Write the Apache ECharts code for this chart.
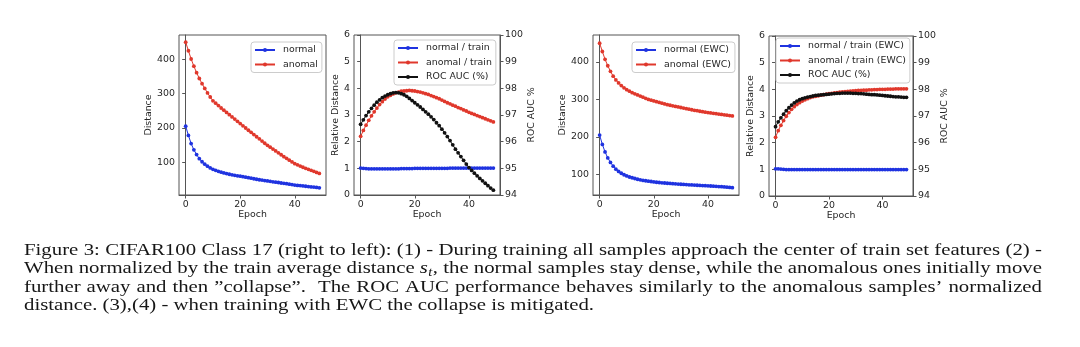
<!DOCTYPE html>
<html>
<head>
<meta charset="utf-8">
<script src="https://cdn.jsdelivr.net/npm/echarts@6/dist/echarts.min.js"></script>
<style>
html,body{margin:0;padding:0;background:#fff;}
#c{width:1080px;height:347px;}
</style>
</head>
<body>
<div id="c"></div>
<script>
const epochs = [0,1,2,3,4,5,6,7,8,9,10,11,12,13,14,15,16,17,18,19,20,21,22,23,24,25,26,27,28,29,30,31,32,33,34,35,36,37,38,39,40,41,42,43,44,45,46,47,48,49];
const xTicks = [0,20,40];
const distTicks = [100,200,300,400];

const p1Normal = [205,178,154,136,122,110,101,94,88,83, 79,76,73,70.5,68.5,66.5,64.5,63,61.5,60, 59,57.5,56,54.5,53,51.5,50,48.5,47.5,46, 45,44,42.5,41.5,40.5,39,38,37,35.5,34.5, 33,32,31.5,30.5,29.5,28.5,27.5,27,26,25];
const p1Anomal = [450,425,401,380,361,344,329,315,302,290, 279,272,265,258,251.5,245,238.5,232,225.5,219, 212.5,206,199.5,193,187,180.5,174,168,161.5,155, 149,143.5,138,132.5,127,121.5,116,111,105.5,100.5, 95.5,92,88.5,85,82,79,76,73,70,67];

const p2Normal = [1.01,1.0,0.99,0.98,0.98,0.98,0.98,0.98,0.98,0.98, 0.98,0.98,0.98,0.98,0.98,0.99,0.99,0.99,0.99,0.99, 1.0,1.0,1.0,1.0,1.0,1.0,1.0,1.0,1.0,1.0, 1.0,1.0,1.0,1.01,1.01,1.01,1.01,1.01,1.01,1.01, 1.01,1.01,1.01,1.01,1.01,1.01,1.01,1.01,1.01,1.01];
const p2Anomal = [2.2,2.42,2.62,2.8,2.97,3.12,3.26,3.39,3.5,3.6, 3.68,3.74,3.79,3.83,3.86,3.89,3.9,3.91,3.92,3.91, 3.9,3.88,3.86,3.83,3.8,3.77,3.73,3.69,3.65,3.61, 3.56,3.51,3.46,3.42,3.37,3.33,3.28,3.24,3.19,3.15, 3.1,3.06,3.02,2.98,2.94,2.9,2.86,2.82,2.78,2.74];
const p2Auc = [96.65,96.82,96.98,97.12,97.25,97.37,97.48,97.57,97.65,97.71, 97.76,97.8,97.83,97.84,97.83,97.8,97.76,97.7,97.62,97.54, 97.46,97.38,97.3,97.21,97.12,97.03,96.93,96.83,96.71,96.6, 96.47,96.33,96.19,96.04,95.88,95.72,95.58,95.44,95.3,95.16, 95.03,94.92,94.82,94.72,94.62,94.53,94.44,94.35,94.26,94.18];

const p3Normal = [205,180,160,144,132,122,114,108,103,99, 96,93,91,89,87,85.5,84,83,82,81, 80,79,78.3,77.6,77,76.4,75.8,75.2,74.7,74.2, 73.7,73.2,72.7,72.2,71.8,71.4,71,70.6,70.2,69.8, 69.4,69,68.6,68.1,67.6,67.1,66.6,65.9,65.2,64.5];
const p3Anomal = [450,428,407,390,375,362,352,344,337,331, 326,322,318,315,312,309,306,303,300,298, 296,294,292,290,288,286,284.5,283,281.5,280, 278.5,277,275.5,274,272.5,271,270,268.5,267.5,266, 265,264,263,262,261,260,259,258,257,256];

const p4Normal = [1.02,1.02,1.01,1.0,0.99,0.99,0.99,0.99,0.99,0.99, 0.99,0.99,0.99,0.99,0.99,0.99,0.99,0.99,0.99,0.99, 0.99,0.99,0.99,0.99,0.99,0.99,0.99,0.99,0.99,0.99, 0.99,0.99,0.99,0.99,0.99,0.99,0.99,0.99,0.99,0.99, 0.99,0.99,0.99,0.99,0.99,0.99,0.99,0.99,0.99,0.99];
const p4Anomal = [2.2,2.45,2.65,2.83,2.99,3.13,3.25,3.35,3.43,3.5, 3.56,3.61,3.65,3.69,3.72,3.74,3.76,3.78,3.8,3.82, 3.84,3.85,3.87,3.88,3.89,3.9,3.91,3.92,3.93,3.94, 3.95,3.96,3.96,3.97,3.97,3.98,3.98,3.99,3.99,4.0, 4.0,4.0,4.01,4.01,4.01,4.02,4.02,4.02,4.02,4.02];
const p4Auc = [96.6,96.78,96.93,97.07,97.2,97.31,97.41,97.49,97.56,97.61, 97.65,97.68,97.71,97.73,97.75,97.77,97.78,97.79,97.8,97.81, 97.82,97.83,97.84,97.85,97.85,97.86,97.86,97.86,97.86,97.85, 97.85,97.84,97.84,97.83,97.82,97.81,97.8,97.8,97.79,97.78, 97.77,97.76,97.75,97.74,97.73,97.72,97.72,97.71,97.7,97.7];

const captionLines = [
  "Figure 3: CIFAR100 Class 17 (right to left): (1) - During training all samples approach the center of train set features (2) -",
  "When normalized by the train average distance $s_t$, the normal samples stay dense, while the anomalous ones initially move",
  "further away and then \u201dcollapse\u201d.  The ROC AUC performance behaves similarly to the anomalous samples\u2019 normalized",
  "distance. (3),(4) - when training with EWC the collapse is mitigated."
];

const BLUE = '#1f33e0', RED = '#e0382c', BLACK = '#111111';
const FONT = '"DejaVu Sans", sans-serif';
const FS = 9.4;
const TXT = '#262626';
const FRAME = '#555555';

const grids = [
  {left:179, top:35, width:147, height:160},
  {left:354, top:35, width:146, height:160},
  {left:593, top:35, width:146, height:160},
  {left:769, top:36, width:144, height:160}
];

function pairs(arr){ return epochs.map((e,i)=>[e, arr[i]]); }

const xAxes = grids.map((g,i)=>({
  type:'value', gridIndex:i, min:-2.45, max:51.45,
  name:'Epoch', nameLocation:'middle', nameGap:13,
  nameTextStyle:{fontFamily:FONT, fontSize:FS, color:TXT},
  axisLine:{show:true, lineStyle:{color:FRAME, width:1}},
  axisTick:{show:true, length:3.5, customValues:xTicks, lineStyle:{color:FRAME}},
  axisLabel:{customValues:xTicks, fontFamily:FONT, fontSize:FS, color:TXT, margin:5},
  splitLine:{show:false}
}));

function leftDist(gi, min, max, gap){
  return {type:'value', gridIndex:gi, position:'left', min:min, max:max,
    name:'Distance', nameLocation:'middle', nameGap:gap, nameRotate:90,
    nameTextStyle:{fontFamily:FONT, fontSize:FS, color:TXT},
    axisLine:{show:true, lineStyle:{color:FRAME}},
    axisTick:{show:true, length:3.5, customValues:distTicks, lineStyle:{color:FRAME}},
    axisLabel:{customValues:distTicks, fontFamily:FONT, fontSize:FS, color:TXT, margin:4},
    splitLine:{show:false}};
}
function leftRel(gi, gap){
  return {type:'value', gridIndex:gi, position:'left', min:0, max:6, interval:1,
    name:'Relative Distance', nameLocation:'middle', nameGap:gap, nameRotate:90,
    nameTextStyle:{fontFamily:FONT, fontSize:FS, color:TXT},
    axisLine:{show:true, lineStyle:{color:FRAME}},
    axisTick:{show:true, length:3.5, lineStyle:{color:FRAME}},
    axisLabel:{fontFamily:FONT, fontSize:FS, color:TXT, margin:4},
    splitLine:{show:false}};
}
function rightAuc(gi, gap){
  return {type:'value', gridIndex:gi, position:'right', min:94, max:100, interval:1,
    name:'ROC AUC %', nameLocation:'middle', nameGap:gap, nameRotate:90,
    nameTextStyle:{fontFamily:FONT, fontSize:FS, color:TXT},
    axisLine:{show:true, lineStyle:{color:FRAME}},
    axisTick:{show:true, length:3.5, lineStyle:{color:FRAME}},
    axisLabel:{fontFamily:FONT, fontSize:FS, color:TXT, margin:5},
    splitLine:{show:false}};
}

const yAxes = [
  leftDist(0, 4, 471, 20.5),
  leftRel(1, 8), rightAuc(1, 20),
  leftDist(2, 45, 472, 21),
  leftRel(3, 9), rightAuc(3, 23)
];

function line(name, data, color, xi, yi){
  return {type:'line', name:name, xAxisIndex:xi, yAxisIndex:yi, data:pairs(data),
    symbol:'circle', symbolSize:3.8, showSymbol:true,
    lineStyle:{color:color, width:1}, itemStyle:{color:color},
    emphasis:{disabled:true}, animation:false};
}

const series = [
  line('normal', p1Normal, BLUE, 0, 0),
  line('anomal', p1Anomal, RED, 0, 0),
  line('normal / train', p2Normal, BLUE, 1, 1),
  line('anomal / train', p2Anomal, RED, 1, 1),
  line('ROC AUC (%)', p2Auc, BLACK, 1, 2),
  line('normal (EWC)', p3Normal, BLUE, 2, 3),
  line('anomal (EWC)', p3Anomal, RED, 2, 3),
  line('normal / train (EWC)', p4Normal, BLUE, 3, 4),
  line('anomal / train (EWC)', p4Anomal, RED, 3, 4),
  line('ROC AUC (%) ', p4Auc, BLACK, 3, 5)
];

function legend(left, top, names){
  return {left:left, top:top, orient:'vertical', data:names, selectedMode:false,
    itemWidth:20, itemHeight:5, itemGap:4.5,
    backgroundColor:'rgba(255,255,255,0.85)', borderColor:'#cccccc', borderWidth:1, borderRadius:3,
    padding:[3,4,3,3],
    textStyle:{fontFamily:FONT, fontSize:FS, color:TXT, lineHeight:10, padding:[0,0,0,3]}};
}
const legends = [
  legend(251, 42, ['normal','anomal']),
  legend(394, 40, ['normal / train','anomal / train','ROC AUC (%)']),
  legend(632, 42, ['normal (EWC)','anomal (EWC)']),
  legend(776, 38, ['normal / train (EWC)','anomal / train (EWC)','ROC AUC (%) '])
];

// ---- caption (justified text laid out word by word) ----
const cv = document.createElement('canvas').getContext('2d');
function mw(txt, font){ cv.font = font; return cv.measureText(txt).width; }
const SERIF = '"Liberation Serif", "Times New Roman", serif';
const capX = 24, capW = 1018;
const line4W = 570;
const capFs = 17.4;
const fNorm = capFs + 'px ' + SERIF;
const fItal = 'italic ' + capFs + 'px ' + SERIF;
const fSub = 'italic ' + (capFs*0.7) + 'px ' + SERIF;
const sx = line4W / mw(captionLines[3], fNorm);
const baselines = [256, 274.5, 293, 311.5];
const CAPCOL = '#161616';
const midOff = capFs * 0.34;

function tokenWidth(t){
  if (t.indexOf('$s_t$') === 0){
    return (mw('s', fItal) + mw('t', fSub) + mw(t.slice(5), fNorm) + 1) * sx;
  }
  return mw(t, fNorm) * sx;
}
const graphics = [];
function txt(x, y, s, font){
  graphics.push({type:'text', x:x, y:y, scaleX:sx, silent:true,
    style:{text:s, font:font, fill:CAPCOL, align:'left', verticalAlign:'middle'}});
}
captionLines.forEach((str, li)=>{
  const parts = str.split(' ');
  const tokens = [], weights = [];
  let pending = 0;
  parts.forEach(p=>{
    if (p === ''){ pending++; return; }
    if (tokens.length) weights.push(1 + pending);
    pending = 0; tokens.push(p);
  });
  const widths = tokens.map(tokenWidth);
  const sumW = widths.reduce((a,b)=>a+b,0);
  const sumWt = weights.reduce((a,b)=>a+b,0);
  const justify = li < captionLines.length - 1;
  const sp = justify ? (capW - sumW) / sumWt : mw(' ', fNorm) * sx;
  let x = capX;
  const y = baselines[li] - midOff;
  tokens.forEach((t, i)=>{
    if (t.indexOf('$s_t$') === 0){
      const w1 = mw('s', fItal) * sx, w2 = mw('t', fSub) * sx;
      txt(x, y, 's', fItal);
      txt(x + w1 + 0.5, y + capFs*0.22, 't', fSub);
      txt(x + w1 + w2 + 1, y, t.slice(5), fNorm);
    } else {
      txt(x, y, t, fNorm);
    }
    x += widths[i] + (i < weights.length ? sp * weights[i] : 0);
  });
});

const chart = echarts.init(document.getElementById('c'), null, {renderer:'canvas'});
chart.setOption({
  backgroundColor:'#ffffff',
  animation:false,
  grid: grids.map(g=>Object.assign({show:true, borderColor:FRAME, borderWidth:1, backgroundColor:'transparent'}, g)),
  xAxis: xAxes,
  yAxis: yAxes,
  legend: legends,
  series: series,
  graphic: graphics
});
</script>
</body>
</html>
